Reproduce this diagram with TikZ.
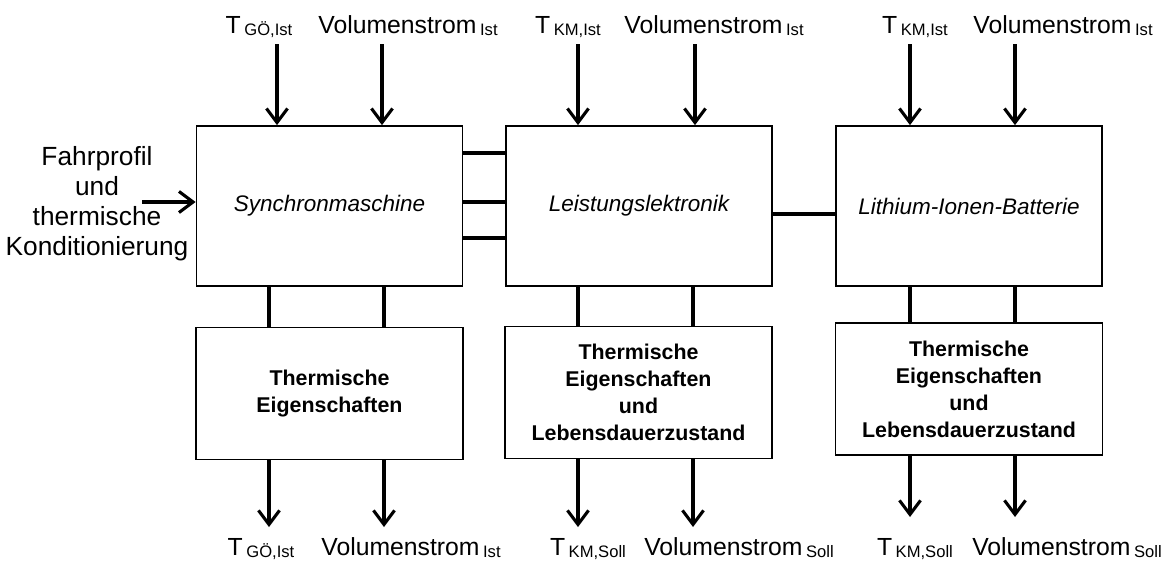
\documentclass[tikz,border=0pt]{standalone}
\usepackage{fontspec}
\setmainfont{Liberation Sans}
\usetikzlibrary{arrows.meta}
\newcommand{\idx}[2]{#1\hspace{2.5pt}\raisebox{-1.6pt}{\fontsize{11.8}{13}\selectfont #2}}

\tikzset{
	block/.style={draw, line width=1.2pt, minimum width=6.65cm, minimum height=4cm, font=\fontsize{16}{19}\selectfont\itshape},
	prop/.style={draw, line width=1.2pt, minimum width=6.675cm, minimum height=3.3cm, align=center, font=\fontsize{15.2}{19.2}\selectfont\bfseries},
	signal/.style={anchor=base, inner sep=0pt, font=\fontsize{17.6}{21}\selectfont},
	flow/.style={line width=2.4pt, -{Straight Barb[length=10pt,width=15pt,line width=2.2pt]}},
	link/.style={line width=2.4pt},
}

\begin{document}
\begin{tikzpicture}[x=0.025cm, y=-0.025cm]
	%%%%% START %%%%%
	\useasboundingbox (0,0) rectangle (1165,560);
	
	% Komponenten
	\node[block] (sm) at (329.5,206) {Synchronmaschine};
	\node[block] (le) at (639,206) {Leistungslektronik};
	\node[block] (lib) at (969,206) {Lithium-Ionen-Batterie};
	
	% thermische Modelle
	\node[prop] (tsm) at (329.5,393.5) {Thermische\\Eigenschaften};
	\node[prop] (tle) at (638.5,392.5) {Thermische\\Eigenschaften\\und\\Lebensdauerzustand};
	\node[prop] (tlib) at (969,389) {Thermische\\Eigenschaften\\und\\Lebensdauerzustand};
	
	% Eingang links
	\node[align=center, font=\fontsize{18.7}{21.3}\selectfont] (drive) at (97,204) {Fahrprofil\\und\\thermische\\Konditionierung};
	\coordinate (drive-in) at (142,202);
	\draw[flow] (drive-in) -- (drive-in -| sm.west);
	
	% Kopplung der Komponenten
	\draw[link] ([yshift=1.325cm]sm.east) -- ([yshift=1.325cm]le.west);
	\draw[link] ([yshift=0.1cm]sm.east) -- ([yshift=0.1cm]le.west);
	\draw[link] ([yshift=-0.8cm]sm.east) -- ([yshift=-0.8cm]le.west);
	\draw[link] ([yshift=-0.2cm]le.east) -- ([yshift=-0.2cm]lib.west);
	
	% Istwerte oben
	\node[signal] (sm-t) at (259,33) {\idx{T}{GÖ,Ist}};
	\node[signal] (sm-v) at (408,33) {\idx{Volumenstrom}{Ist}};
	\node[signal] (le-t) at (568,33) {\idx{T}{KM,Ist}};
	\node[signal] (le-v) at (714,33) {\idx{Volumenstrom}{Ist}};
	\node[signal] (lib-t) at (915,33) {\idx{T}{KM,Ist}};
	\node[signal] (lib-v) at (1063,33) {\idx{Volumenstrom}{Ist}};
	
	% Ausgaenge unten
	\node[signal] (tsm-t) at (261,555) {\idx{T}{GÖ,Ist}};
	\node[signal] (tsm-v) at (411,555) {\idx{Volumenstrom}{Ist}};
	\node[signal] (tle-t) at (588,555) {\idx{T}{KM,Soll}};
	\node[signal] (tle-v) at (739,555) {\idx{Volumenstrom}{Soll}};
	\node[signal] (tlib-t) at (915,555) {\idx{T}{KM,Soll}};
	\node[signal] (tlib-v) at (1067,555) {\idx{Volumenstrom}{Soll}};
	
	% Pfeile und Verbindungen je Komponente
	\foreach \b/\xa/\xb/\xc/\xd/\yo in {sm/277/382/269/384/527, le/578/695/578/693/527, lib/910/1015/910/1015/517}{
		\coordinate (\b-in1) at (\xa,44);
		\coordinate (\b-in2) at (\xb,44);
		\coordinate (\b-out1) at (\xc,\yo);
		\coordinate (\b-out2) at (\xd,\yo);
		\draw[flow] (\b-in1) -- (\b-in1 |- \b.north);
		\draw[flow] (\b-in2) -- (\b-in2 |- \b.north);
		\draw[link] (\b.south -| \b-out1) -- (t\b.north -| \b-out1);
		\draw[link] (\b.south -| \b-out2) -- (t\b.north -| \b-out2);
		\draw[flow] (t\b.south -| \b-out1) -- (\b-out1);
		\draw[flow] (t\b.south -| \b-out2) -- (\b-out2);
	}
	%%%%% END %%%%%
\end{tikzpicture}
\end{document}
